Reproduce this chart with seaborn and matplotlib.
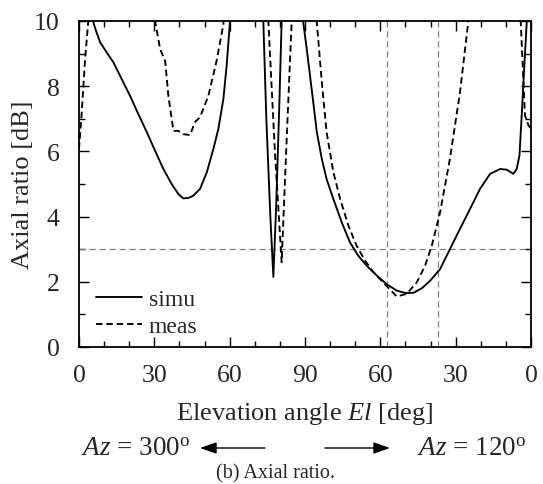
import numpy as np
import pandas as pd
import matplotlib
matplotlib.use("Agg")
import matplotlib.pyplot as plt
import seaborn as sns

# ---- data (x position on the combined 0..180 axis: left half Az=300, right half Az=120) ----
simu_x = [4.8, 5.7, 7.0, 8.4, 11.0, 13.7, 17.0, 20.3, 23.6, 27.0, 30.3, 33.6, 36.9, 39.6, 41.5,
          43.5, 45.5, 48.2, 50.9, 53.5, 55.5, 57.5, 58.8, 60.1, 60.4,
          73.0, 73.4, 74.6, 76.2, 77.4, 78.6, 79.8, 80.7, 81.0,
          89.0, 89.3, 90.7, 92.0, 93.3, 94.7, 96.7, 98.6, 101.3, 104.6, 107.9, 111.2, 114.6, 118.6,
          122.5, 126.5, 129.8, 133.1, 136.5, 139.8, 143.8, 147.7, 151.7, 155.7, 159.7, 163.7,
          167.7, 170.3, 173.0, 174.3, 175.4, 176.3, 177.2, 178.3, 178.5]
simu_y = [11, 9.96, 9.65, 9.35, 9.04, 8.73, 8.22, 7.71, 7.15, 6.59, 6.02, 5.46, 5.0, 4.69, 4.56,
          4.57, 4.64, 4.85, 5.36, 6.07, 6.69, 7.61, 8.63, 9.96, 11,
          11, 10, 7.0, 4.0, 2.15, 4.5, 7.5, 10, 11,
          11, 9.96, 9.14, 8.32, 7.5, 6.59, 5.77, 5.15, 4.54, 3.83, 3.21, 2.80, 2.49, 2.19,
          1.93, 1.73, 1.66, 1.66, 1.80, 2.03, 2.39, 3.0, 3.62, 4.23, 4.85, 5.31,
          5.46, 5.44, 5.31, 5.46, 5.87, 7.1, 8.43, 9.96, 11]

meas_x = [0.0, 1.0, 2.4, 3.7, 4.0,
          29.9, 30.3, 32.3, 34.3, 35.6, 37.6, 39.5, 41.4, 44.2, 46.2, 48.2, 51.5, 54.8, 57.5, 58.0,
          75.0, 75.4, 78.0, 80.7, 82.5, 84.7, 85.0,
          94.5, 94.7, 96.7, 98.6, 101.3, 104.0, 107.3, 110.6, 113.9, 117.2, 122.5, 126.5, 130.5,
          134.5, 137.8, 140.5, 143.8, 147.7, 151.7, 155.0, 155.3,
          175.6, 175.9, 177.6, 179.0, 180.0]
meas_y = [6.07, 7.1, 8.8, 10, 11,
          11, 10, 9.14, 8.78, 7.7, 6.63, 6.63, 6.53, 6.5, 6.9, 7.05, 7.7, 8.78, 9.9, 11,
          11, 10, 6.0, 2.6, 6.0, 10, 11,
          11, 9.96, 8.12, 6.59, 5.36, 4.54, 3.72, 3.1, 2.65, 2.3, 1.87, 1.55, 1.63,
          1.98, 2.49, 3.11, 4.13, 5.77, 7.8, 9.96, 11,
          11, 10, 7.1, 6.8, 6.7]

xtick_pos = [0, 30, 60, 90, 120, 150, 180]
xtick_labels = ["0", "30", "60", "90", "60", "30", "0"]
vlines_x = [122.5, 143.0]
hline_y = 3.0

df = pd.concat([
    pd.DataFrame({"x": simu_x, "y": simu_y, "series": "simu"}),
    pd.DataFrame({"x": meas_x, "y": meas_y, "series": "meas"}),
], ignore_index=True)

sns.set_style("ticks")
plt.rcParams["font.family"] = ["Liberation Serif", "DejaVu Serif"]
plt.rcParams["mathtext.fontset"] = "custom"
plt.rcParams["mathtext.rm"] = "Liberation Serif"
plt.rcParams["mathtext.it"] = "Liberation Serif:italic"

fig = plt.figure(figsize=(5.43, 4.85), dpi=100)
W, H = 543, 485
ax = fig.add_axes([79 / W, 1 - 348 / H, (531 - 79) / W, (348 - 22) / H])

# reference lines
for xv in vlines_x:
    ax.axvline(xv, color="#808080", lw=0.9, ls=(0, (5, 3)), zorder=1)
ax.axhline(hline_y, color="#808080", lw=0.9, ls=(0, (5, 3)), zorder=1)

sns.lineplot(data=df, x="x", y="y", style="series", dashes={"simu": "", "meas": (3.5, 2)},
             color="black", sort=False, estimator=None, linewidth=1.35, ax=ax, zorder=3)

ax.set_xlim(0, 180)
ax.set_ylim(0, 10)
ax.set_xticks(xtick_pos)
ax.set_xticklabels(xtick_labels)
ax.set_xticks(np.arange(0, 181, 10), minor=True)
ax.set_yticks([0, 2, 4, 6, 8, 10])
ax.set_yticks(np.arange(0, 11, 1), minor=True)
ax.tick_params(which="both", direction="in", top=True, right=True, labelsize=18.5,
               width=1.0, color="black")
ax.tick_params(which="major", length=7)
ax.tick_params(axis="x", which="major", pad=12)
ax.tick_params(axis="y", which="major", pad=14)
ax.tick_params(which="minor", length=4)
for s in ax.spines.values():
    s.set_linewidth(1.3)
    s.set_color("black")

ax.set_xlabel(r"Elevation angle $El$ [deg]", fontsize=19, labelpad=10)
ax.set_ylabel("Axial ratio [dB]", fontsize=19, labelpad=0)

handles, labels = ax.get_legend_handles_labels()
ax.legend(handles=handles, labels=labels, loc="lower left", bbox_to_anchor=(0.0, -0.02),
          frameon=False, fontsize=17, handlelength=1.95, handletextpad=0.3,
          labelspacing=0.24, borderaxespad=0.3)

# bottom annotations
def fx(px):
    return px / W

def fy(py):
    return 1 - py / H

fig.text(fx(81), fy(450), r"$Az$ = 300$^{\mathrm{o}}$", fontsize=19.5, va="center", ha="left")
fig.text(fx(417), fy(450), r"$Az$ = 120$^{\mathrm{o}}$", fontsize=19.5, va="center", ha="left")
fig.add_artist(matplotlib.patches.FancyArrowPatch(
    (fx(265), fy(449)), (fx(200), fy(449)), transform=fig.transFigure,
    arrowstyle="-|>,head_length=10,head_width=3.5", color="black", lw=1.0,
    shrinkA=0, shrinkB=0))
fig.add_artist(matplotlib.patches.FancyArrowPatch(
    (fx(325), fy(449)), (fx(390), fy(449)), transform=fig.transFigure,
    arrowstyle="-|>,head_length=10,head_width=3.5", color="black", lw=1.0,
    shrinkA=0, shrinkB=0))
fig.text(fx(276), fy(483), "(b) Axial ratio.", fontsize=14.5, va="bottom", ha="center")

fig.savefig("out.png", dpi=100)
